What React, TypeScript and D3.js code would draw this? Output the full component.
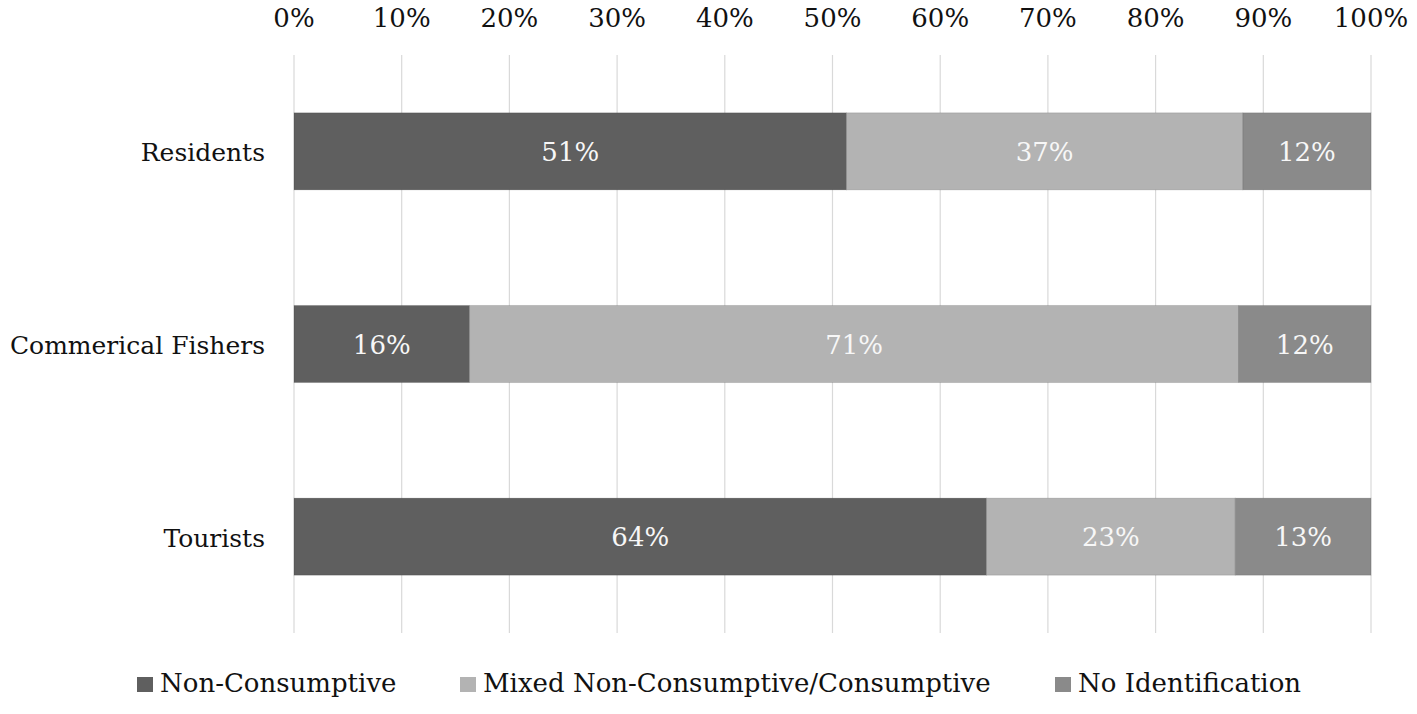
import * as d3 from "d3";
import React from "react";

const categories = ["Residents", "Commerical Fishers", "Tourists"];
const seriesNames = ["Non-Consumptive", "Mixed Non-Consumptive/Consumptive", "No Identification"];
const nonConsumptive = [51.3, 16.3, 64.3];
const mixed = [36.8, 71.4, 23.1];
const noIdent = [11.9, 12.3, 12.6];
const tickValues = [0, 10, 20, 30, 40, 50, 60, 70, 80, 90, 100];
const colors = ["#5f5f5f", "#b3b3b3", "#8a8a8a"];

const width = 1417;
const height = 714;
const font = "DejaVu Serif";

const App = () => {
  const x = d3.scaleLinear().domain([0, 100]).range([294, 1371]);
  const y = d3
    .scaleBand<string>()
    .domain(categories)
    .range([55, 633])
    .paddingInner(0.6)
    .paddingOuter(0.3);

  const rows = categories.map((c, i) => ({
    category: c,
    s0: nonConsumptive[i],
    s1: mixed[i],
    s2: noIdent[i],
  }));
  const stack = d3.stack<any>().keys(["s0", "s1", "s2"]);
  const layers = stack(rows);

  // legend item x positions (square left edge)
  const legendX = [137, 460, 1055];
  const txt = { fontFamily: font };

  return (
    <svg
      width={width}
      height={height}
      style={{ position: "absolute", left: 0, top: 0, background: "#fff", fontFamily: font }}
    >
      {tickValues.map((t) => (
        <g key={t}>
          <line x1={x(t)} x2={x(t)} y1={55} y2={633} stroke="#d9d9d9" strokeWidth={1.2} />
          <text x={x(t)} y={27} textAnchor="middle" fontSize={26} fill="#111" style={txt}>
            {t}%
          </text>
        </g>
      ))}

      {layers.map((layer, li) => (
        <g key={li}>
          {layer.map((d, i) => {
            const x0 = x(d[0]);
            const x1 = x(d[1]);
            const yy = y(categories[i]) as number;
            const v = d[1] - d[0];
            return (
              <g key={i}>
                <rect
                  x={x0}
                  y={yy}
                  width={x1 - x0}
                  height={y.bandwidth()}
                  fill={colors[li]}
                  stroke="rgba(0,0,0,0.12)"
                  strokeWidth={1}
                />
                <text
                  x={(x0 + x1) / 2}
                  y={yy + y.bandwidth() / 2}
                  dy="0.37em"
                  textAnchor="middle"
                  fontSize={26}
                  fill="#f7f7f7"
                  style={txt}
                >
                  {Math.round(v)}%
                </text>
              </g>
            );
          })}
        </g>
      ))}

      {categories.map((c) => (
        <text
          key={c}
          x={265}
          y={(y(c) as number) + y.bandwidth() / 2}
          dy="0.4em"
          textAnchor="end"
          fontSize={25}
          fill="#111"
          style={txt}
        >
          {c}
        </text>
      ))}

      {seriesNames.map((s, i) => (
        <g key={s}>
          <rect x={legendX[i]} y={677} width={16} height={15} fill={colors[i]} />
          <text x={legendX[i] + 23} y={692} fontSize={26} fill="#111" style={txt}>
            {s}
          </text>
        </g>
      ))}
    </svg>
  );
};

export default App;
